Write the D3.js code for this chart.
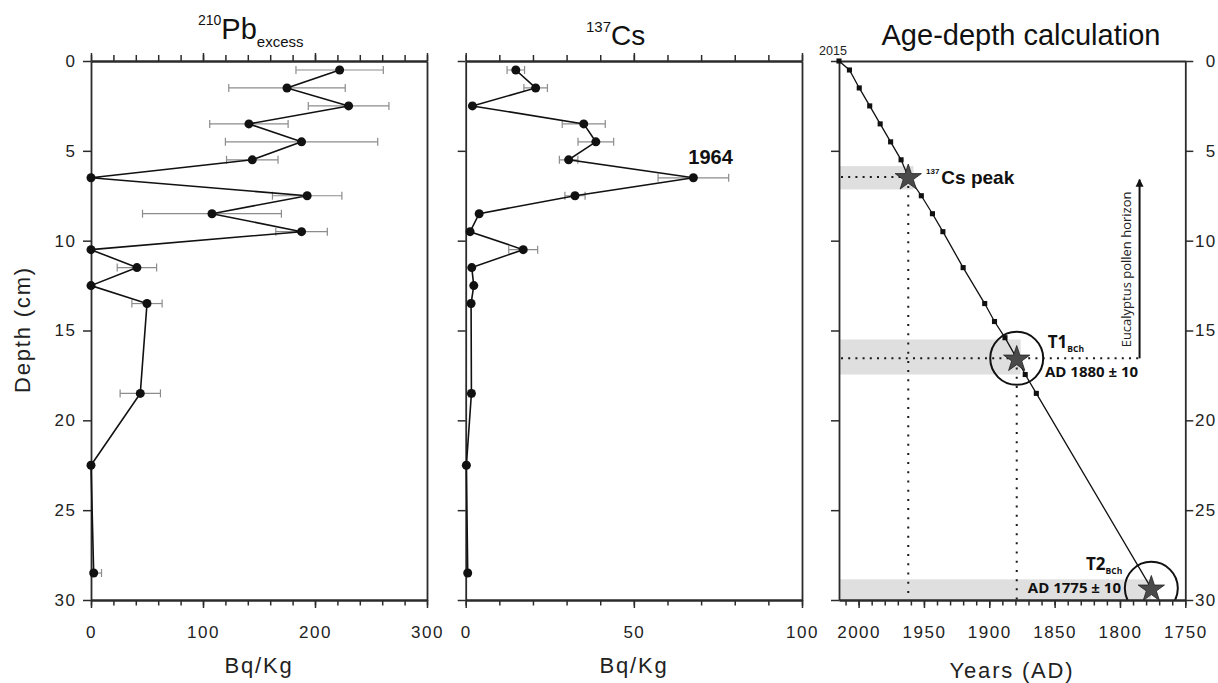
<!DOCTYPE html>
<html><head><meta charset="utf-8">
<script src="https://cdn.jsdelivr.net/npm/d3@7"></script>
<style>
body{margin:0;background:#fff}
svg{display:block}
</style></head><body>
<svg id="c" width="1218" height="683"></svg>
<script>
// ---------- data ----------
const depths   = [0.5,1.5,2.5,3.5,4.5,5.5,6.5,7.5,8.5,9.5,10.5,11.5,12.5,13.5,18.5,22.5,28.5];
const pbValues = [222,175,230,141,188,144,0,193,108,188,0,41,0,50,44,0,2.4];
const pbErrors = [39,52,36,35,68,23,0,31,62,23,0,17.6,0,13.5,18,0,7];
const csValues = [14.9,20.8,2.0,35.1,38.7,30.6,67.7,32.5,4.0,1.3,17.1,1.8,2.4,1.6,1.7,0.2,0.6];
const csErrors = [2.6,3.5,0,6.4,5.3,2.75,10.5,3,0,0,4.3,0,0,0.6,0.8,0,0.6];

const ageDepths = [0,0.5,1.5,2.5,3.5,4.5,5.5,7.5,8.5,9.5,11.5,13.5,14.5,15.4,17.45,18.5];
const ageYears  = [2015,2007,1999.5,1991.5,1983.5,1975.5,1967.5,1952,1943.5,1935.5,1920,1903.5,1896,1888,1872.5,1864];
const tieNames  = ["Cs","T1","T2"];
const tieDepths = [6.45,16.55,29.35];
const tieYears  = [1962,1879,1776];
const bandTop    = [5.85,15.5,28.85];
const bandBottom = [7.15,17.45,30];
const bandYear   = [1958,1876,1776];
const arrowYear = 1785, arrowFrom = 16.55, arrowTo = 6.6;

const depthTicks = [0,5,10,15,20,25,30];
const pbTicks = [0,100,200,300];
const pbMinor = d3.range(0,301,20);
const csTicks = [0,50,100];
const csMinor = d3.range(0,101,10);
const yearTicks = [2000,1950,1900,1850,1800,1750];
const yearMinor = d3.range(2010,1749,-10);

// ---------- setup ----------
const svg = d3.select("#c");
const FONT = '"Liberation Sans", Arial, sans-serif';
const OS = '"Open Sans", "Noto Sans", sans-serif';
const AXC = '#2b2b2b';
const y = d3.scaleLinear().domain([0,30]).range([61,600]);
const xPb = d3.scaleLinear().domain([0,300]).range([91,427]);
const xCs = d3.scaleLinear().domain([0,100]).range([465.7,802]);
const xAge = d3.scaleLinear().domain([2015,1750]).range([839,1185.3]);

function sty(g){
  g.selectAll('path.domain').attr('stroke',AXC).attr('stroke-width',1.8);
  g.selectAll('.tick line').attr('stroke',AXC).attr('stroke-width',1.5);
  g.selectAll('.tick text').attr('font-family',FONT).attr('font-size',17).attr('fill','#222').style('letter-spacing','1.5px');
  return g;
}
function addAxis(axis, tx, ty){
  return sty(svg.append('g').attr('transform',`translate(${tx},${ty})`).call(axis));
}

// ---------- generic profile panel ----------
function profile(x, vals, errs, minor, major, leftLabels, id){
  const [x0,x1] = x.range();
  svg.append('clipPath').attr('id',id).append('rect')
    .attr('x',x0).attr('y',y(0)).attr('width',x1-x0).attr('height',y(30)-y(0));
  addAxis(d3.axisTop(x).tickValues(minor).tickSize(6).tickFormat('').tickSizeOuter(0),0,y(0));
  addAxis(d3.axisTop(x).tickValues(major).tickSize(8).tickFormat('').tickSizeOuter(0),0,y(0));
  addAxis(d3.axisBottom(x).tickValues(minor).tickSize(5.5).tickFormat('').tickSizeOuter(0),0,y(30));
  addAxis(d3.axisBottom(x).tickValues(major).tickSize(8).tickPadding(17.6).tickFormat(d3.format('d')).tickSizeOuter(0),0,y(30));
  const la = d3.axisLeft(y).tickValues(depthTicks).tickSize(8).tickPadding(6.5).tickSizeOuter(0);
  if(!leftLabels) la.tickFormat('');
  addAxis(la,x0,0);
  addAxis(d3.axisRight(y).tickValues([]).tickSizeOuter(0),x1,0);

  const pts = depths.map((d,i)=>({d, v:vals[i], e:errs[i]}));
  const eb = svg.append('g').attr('clip-path',`url(#${id})`).attr('stroke','#8c8c8c').attr('stroke-width',1.2);
  const ep = pts.filter(p=>p.e>0);
  eb.selectAll('.h').data(ep).join('line')
    .attr('x1',p=>x(p.v-p.e)).attr('x2',p=>x(p.v+p.e)).attr('y1',p=>y(p.d)).attr('y2',p=>y(p.d));
  eb.selectAll('.l').data(ep).join('line').attr('class','l')
    .attr('x1',p=>x(p.v-p.e)).attr('x2',p=>x(p.v-p.e)).attr('y1',p=>y(p.d)-4).attr('y2',p=>y(p.d)+4);
  eb.selectAll('.r').data(ep).join('line').attr('class','r')
    .attr('x1',p=>x(p.v+p.e)).attr('x2',p=>x(p.v+p.e)).attr('y1',p=>y(p.d)-4).attr('y2',p=>y(p.d)+4);
  svg.append('path').datum(pts)
    .attr('d', d3.line().x(p=>x(p.v)).y(p=>y(p.d)))
    .attr('fill','none').attr('stroke','#111').attr('stroke-width',1.6);
  svg.append('g').selectAll('circle').data(pts).join('circle')
    .attr('cx',p=>x(p.v)).attr('cy',p=>y(p.d)).attr('r',4.5).attr('fill','#111');
}

profile(xPb,pbValues,pbErrors,pbMinor,pbTicks,true,'clipPb');
profile(xCs,csValues,csErrors,csMinor,csTicks,false,'clipCs');

// ---------- age-depth panel ----------
svg.append('clipPath').attr('id','clipAge').append('rect')
  .attr('x',xAge(2015)).attr('y',y(0)).attr('width',xAge(1750)-xAge(2015)).attr('height',y(30)-y(0));
const ag = svg.append('g').attr('clip-path','url(#clipAge)');
ag.selectAll('rect.band').data(bandTop.map((t,i)=>({t,b:bandBottom[i],yr:bandYear[i]}))).join('rect')
  .attr('x',xAge(2015)).attr('width',d=>xAge(d.yr)-xAge(2015))
  .attr('y',d=>y(d.t)).attr('height',d=>y(d.b)-y(d.t)).attr('fill','#dfdfdf');

addAxis(d3.axisTop(xAge).tickValues([]).tickSizeOuter(0),0,y(0));
addAxis(d3.axisBottom(xAge).tickValues(yearMinor).tickSize(5.5).tickFormat('').tickSizeOuter(0),0,y(30));
addAxis(d3.axisBottom(xAge).tickValues(yearTicks).tickSize(8).tickPadding(17.6).tickFormat(d3.format('d')).tickSizeOuter(0),0,y(30));
addAxis(d3.axisLeft(y).tickValues(depthTicks).tickSize(8).tickFormat('').tickSizeOuter(0),xAge(2015),0);
const ra = addAxis(d3.axisRight(y).tickValues(depthTicks).tickSize(8).tickSizeOuter(0),xAge(1750),0);
ra.selectAll('.tick text').attr('text-anchor','end').attr('x',31.5);

const ties = tieNames.map((n,i)=>({n,d:tieDepths[i],yr:tieYears[i]}));
const dots = ag.append('g').attr('stroke','#1a1a1a').attr('stroke-width',2).attr('fill','none');
dots.append('line').attr('x1',xAge(2015)+2).attr('x2',xAge(ties[0].yr)).attr('y1',y(ties[0].d)).attr('y2',y(ties[0].d)).attr('stroke-dasharray','2,5.2');
dots.append('line').attr('x1',xAge(ties[0].yr)).attr('x2',xAge(ties[0].yr)).attr('y1',y(ties[0].d)).attr('y2',y(30)).attr('stroke-dasharray','2,7.2');
dots.append('line').attr('x1',xAge(2015)+2).attr('x2',xAge(arrowYear)).attr('y1',y(ties[1].d)).attr('y2',y(ties[1].d)).attr('stroke-dasharray','2,5.2');
dots.append('line').attr('x1',xAge(ties[1].yr)).attr('x2',xAge(ties[1].yr)).attr('y1',y(ties[1].d)).attr('y2',y(30)).attr('stroke-dasharray','2,7.2');

const allPts = ageDepths.map((d,i)=>({d,yr:ageYears[i]})).concat(ties).sort((a,b)=>a.d-b.d);
svg.append('path').datum(allPts).attr('d',d3.line().x(p=>xAge(p.yr)).y(p=>y(p.d)))
  .attr('fill','none').attr('stroke','#111').attr('stroke-width',1.3);
svg.append('g').selectAll('path').data(ageDepths.map((d,i)=>({d,yr:ageYears[i]}))).join('path')
  .attr('d',d3.symbol(d3.symbolSquare,26)).attr('transform',p=>`translate(${xAge(p.yr)},${y(p.d)})`).attr('fill','#111');

ag.selectAll('circle').data(ties.slice(1)).join('circle')
  .attr('cx',p=>xAge(p.yr)).attr('cy',p=>y(p.d)).attr('r',26.5)
  .attr('fill','none').attr('stroke','#111').attr('stroke-width',2);
svg.append('g').selectAll('path').data(ties).join('path')
  .attr('d',d3.symbol(d3.symbolStar,215)).attr('transform',p=>`translate(${xAge(p.yr)},${y(p.d)+1})`)
  .attr('fill','#4a4a4a').attr('stroke','#222').attr('stroke-width',0.8);

svg.append('defs').append('marker').attr('id','ah').attr('viewBox','0 0 10 10').attr('refX',9).attr('refY',5)
  .attr('markerWidth',4).attr('markerHeight',6).attr('markerUnits','strokeWidth').attr('orient','auto')
  .append('path').attr('d','M0,0 L10,5 L0,10 z').attr('fill','#111');
svg.append('line').attr('x1',xAge(arrowYear)).attr('x2',xAge(arrowYear)).attr('y1',y(arrowFrom)).attr('y2',y(arrowTo))
  .attr('stroke','#111').attr('stroke-width',2).attr('marker-end','url(#ah)');
svg.append('text').attr('transform',`translate(${xAge(arrowYear)-9},${y(arrowFrom)-11}) rotate(-90)`)
  .attr('font-family',OS).attr('font-size',13).attr('fill','#222').text('Eucalyptus pollen horizon');

// ---------- texts ----------
function T(x,yy,opts){ const t=svg.append('text').attr('x',x).attr('y',yy).attr('fill',opts.fill||'#111')
  .attr('font-family',opts.family||FONT).attr('font-size',opts.size||14);
  if(opts.weight) t.attr('font-weight',opts.weight); if(opts.anchor) t.attr('text-anchor',opts.anchor);
  if(opts.ls) t.style('letter-spacing',opts.ls); return t; }

let t = T(198,39,{size:29});
t.append('tspan').attr('font-size',14).attr('dy',-14).text('210');
t.append('tspan').attr('font-size',29).attr('dy',14).text('Pb');
t.append('tspan').attr('font-size',15).attr('dy',7.5).text('excess');
t = T(586,44.5,{size:28});
t.append('tspan').attr('font-size',15).attr('dy',-13).text('137');
t.append('tspan').attr('font-size',28).attr('dy',13).text('Cs');
T(1021,45,{size:29,anchor:'middle'}).text('Age-depth calculation');
T(833,55,{size:12.5,anchor:'middle',fill:'#222'}).text('2015');

T(0,0,{size:22,anchor:'middle',ls:'1.8px',fill:'#222'}).attr('transform','translate(30,329.5) rotate(-90)').text('Depth (cm)');
T(259,673,{size:22,anchor:'middle',ls:'1.8px',fill:'#222'}).text('Bq/Kg');
T(634,673,{size:22,anchor:'middle',ls:'1.8px',fill:'#222'}).text('Bq/Kg');
T(1012,678,{size:22,anchor:'middle',ls:'1.8px',fill:'#222'}).text('Years (AD)');

T(688.3,164.3,{size:20,weight:'bold'}).text('1964');
t = T(926,184.3,{size:19,weight:'bold'});
t.append('tspan').attr('font-size',8).attr('dy',-10).text('137');
t.append('tspan').attr('font-size',19).attr('dy',10).attr('dx',2).text('Cs peak');
t = T(1047.7,348.3,{size:17,weight:'bold',family:OS});
t.append('tspan').text('T1');
t.append('tspan').attr('font-size',8.5).attr('dy',3.5).text('BCh');
T(1045,377.3,{size:15,weight:'bold',family:OS}).text('AD 1880 ± 10');
t = T(1086,570,{size:17,weight:'bold',family:OS});
t.append('tspan').text('T2');
t.append('tspan').attr('font-size',8.5).attr('dy',3.5).text('BCh');
T(1121,593.3,{size:15,weight:'bold',family:OS,anchor:'end'}).text('AD 1775 ± 10');
</script>
</body></html>
